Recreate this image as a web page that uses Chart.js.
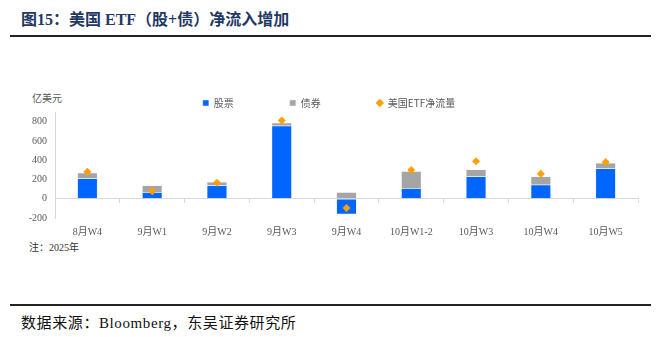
<!DOCTYPE html>
<html>
<head>
<meta charset="utf-8">
<script src="https://cdn.jsdelivr.net/npm/chart.js@4"></script>
<style>
  body { margin: 0; width: 658px; height: 337px; background: #fff; position: relative; overflow: hidden; }
  .title { position: absolute; left: 21px; top: 6px; font: bold 16px "Liberation Serif", "Noto Sans CJK SC"; color: #1f3864; }
  .rule { position: absolute; left: 10px; width: 641px; background: #222; }
  .unit { position: absolute; left: 32px; top: 90px; font: 10px "Noto Sans CJK SC"; color: #595959; }
  .note { position: absolute; left: 29px; top: 239px; font: 10px "Liberation Serif", "Noto Sans CJK SC"; color: #333; }
  .source { position: absolute; left: 21px; top: 311px; font: 15px "Liberation Serif", "Noto Sans CJK SC"; letter-spacing: 0.6px; color: #111; }
  #wrap { position: absolute; left: 0; top: 42px; width: 658px; height: 208px; }
</style>
</head>
<body>
<div class="title">图15：美国 ETF（股+债）净流入增加</div>
<div class="rule" style="top:35px;height:1.5px"></div>
<div class="unit">亿美元</div>
<div class="note">注：2025年</div>
<div class="rule" style="top:304px;height:2px"></div>
<div class="source">数据来源：Bloomberg，东吴证券研究所</div>
<div id="wrap"><canvas id="myChart"></canvas></div>
<script>
// data (亿美元)
var weeks = ["8月W4", "9月W1", "9月W2", "9月W3", "9月W4", "10月W1-2", "10月W3", "10月W4", "10月W5"];
var stocks = [210, 68, 136, 758, -160, 109, 231, 146, 313];
var bonds = [60, 70, 37, 31, 68, 177, 72, 85, 58];
var netFlow = [280, 78, 167, 813, -95, 299, 388, 258, 381];
var yTicks = [-200, 0, 200, 400, 600, 800];

// pull the plot up under the legend a bit
var legendTrim = {
  id: "legendTrim",
  afterInit: function (chart) {
    var lg = chart.legend;
    var fit = lg.fit;
    lg.fit = function () {
      fit.call(this);
      this.height -= 6;
    };
  }
};

new Chart("myChart", {
  type: "bar",
  data: {
    labels: weeks,
    datasets: [{
      label: "股票",
      data: stocks,
      backgroundColor: "#0066ff",
      borderColor: "#cfe0ff",
      borderWidth: 0.5,
      stack: "s",
      pointStyle: "rect",
      categoryPercentage: 1,
      barPercentage: 0.31,
      order: 2
    }, {
      label: "债券",
      data: bonds,
      backgroundColor: "#a5a5a5",
      borderColor: "#e6e6e6",
      borderWidth: 0.5,
      stack: "s",
      pointStyle: "rect",
      categoryPercentage: 1,
      barPercentage: 0.31,
      order: 2
    }, {
      type: "line",
      label: "美国ETF净流量",
      data: netFlow,
      showLine: false,
      pointStyle: "rectRot",
      pointRadius: 4,
      pointBackgroundColor: "#ffa000",
      pointBorderWidth: 0,
      backgroundColor: "#ffa000",
      borderColor: "#ffa000",
      borderWidth: 0,
      order: 0
    }]
  },
  options: {
    responsive: true,
    maintainAspectRatio: false,
    animation: false,
    layout: { padding: { left: 20, right: 20, top: 0, bottom: 0 } },
    plugins: {
      tooltip: { enabled: false },
      legend: {
        position: "top",
        labels: {
          usePointStyle: true,
          boxWidth: 6,
          boxHeight: 6,
          padding: 56,
          color: "#595959",
          font: { family: "Noto Sans CJK SC", size: 10 },
          sort: function (a, b) { return a.datasetIndex - b.datasetIndex; }
        }
      }
    },
    scales: {
      x: {
        stacked: true,
        position: { y: 0 },
        ticks: { display: false },
        grid: { offset: true, drawOnChartArea: false, tickLength: 4, color: "#d9d9d9" },
        border: { display: true, color: "#d9d9d9" }
      },
      x2: {
        type: "category",
        labels: weeks,
        position: "bottom",
        offset: true,
        grid: { display: false },
        border: { display: false },
        ticks: { padding: 0, color: "#595959", font: { family: "Liberation Serif, Noto Sans CJK SC", size: 10 } },
        afterFit: function (scale) { scale.height = 32; }
      },
      y: {
        stacked: true,
        min: -200,
        max: 900,
        afterBuildTicks: function (scale) {
          scale.ticks = yTicks.map(function (v) { return { value: v }; });
        },
        afterFit: function (scale) { scale.width = 35; },
        ticks: { padding: 8, color: "#595959", font: { family: "Liberation Serif", size: 10 } },
        grid: {
          drawTicks: false,
          color: function (c) { return c.tick && c.tick.value === 0 ? "#d9d9d9" : "rgba(0,0,0,0)"; }
        },
        border: { display: true, color: "#d9d9d9" }
      }
    }
  },
  plugins: [legendTrim]
});
</script>
</body>
</html>
